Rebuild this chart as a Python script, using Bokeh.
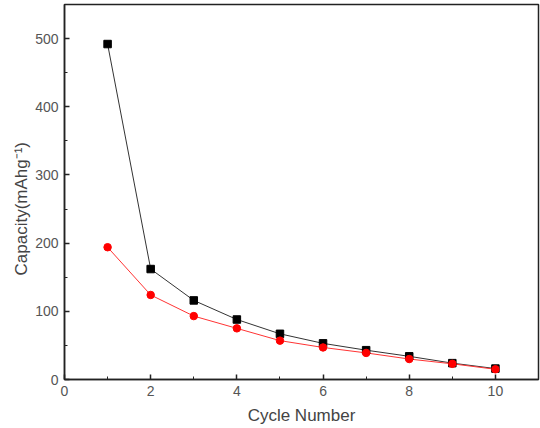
from bokeh.plotting import figure
from bokeh.models import SingleIntervalTicker, Range1d, Title
from bokeh.embed import file_html
from bokeh.resources import INLINE

cycles = [1, 2, 3, 4, 5, 6, 7, 8, 9, 10]
charge = [492, 162, 116, 88, 67, 53, 43, 34, 24, 16]
discharge = [194, 124, 93, 75, 57, 47, 39, 30, 23, 15]

p = figure(width=540, height=428, output_backend="svg", toolbar_location=None,
           x_range=Range1d(0, 11), y_range=Range1d(0, 550),
           min_border_left=64, min_border_right=2, min_border_top=4, min_border_bottom=49)
p.grid.visible = False
p.outline_line_color = "#222222"
p.outline_line_width = 1.5
p.background_fill_color = "white"
p.border_fill_color = "white"

p.line(cycles, charge, line_color="#333333", line_width=1)
p.line(cycles, discharge, line_color="#ff3333", line_width=1)
p.scatter(cycles, charge, marker="square", size=7.5, fill_color="black", line_color="black")
p.scatter(cycles, discharge, marker="circle", size=7.5, fill_color="red", line_color="red")

p.xaxis.ticker = SingleIntervalTicker(interval=2, num_minor_ticks=2)
p.yaxis.ticker = SingleIntervalTicker(interval=100, num_minor_ticks=2)
for ax in (p.xaxis[0], p.yaxis[0]):
    ax.major_tick_in = 5
    ax.major_tick_out = 0
    ax.minor_tick_in = 3
    ax.minor_tick_out = 0
    ax.axis_line_width = 1.5
    ax.axis_line_color = "#222222"
    ax.major_tick_line_color = "#222222"
    ax.minor_tick_line_color = "#222222"
    ax.major_tick_line_width = 1.5
    ax.major_label_text_font = "Liberation Sans"
    ax.major_label_text_font_size = "14px"
    ax.major_label_text_color = "#555555"
    ax.axis_label_text_font = "Liberation Sans"
    ax.axis_label_text_font_size = "17px"
    ax.axis_label_text_font_style = "normal"
    ax.axis_label_text_color = "#444444"

p.xaxis.axis_label = "Cycle Number"
p.xaxis.major_label_standoff = 6
p.yaxis.major_label_standoff = 6
p.xaxis.axis_label_standoff = 7

ytitle = Title(text="Capacity(mAhg\u207b\u00b9)", align="left", offset=104,
               text_font="Liberation Sans", text_font_size="17px",
               text_font_style="normal", text_color="#444444", standoff=4)
p.add_layout(ytitle, "left")

open("out.html", "w").write(file_html(p, INLINE))
